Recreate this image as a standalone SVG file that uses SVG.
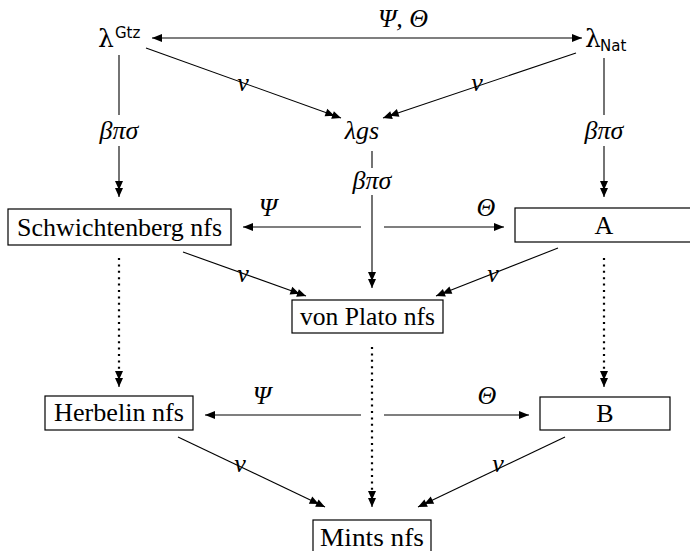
<svg xmlns="http://www.w3.org/2000/svg" width="690" height="551" viewBox="0 0 690 551">
<style>
.t{font-family:"Liberation Serif","DejaVu Serif",serif;font-size:26px;fill:#000}
.m{font-family:"Liberation Serif","DejaVu Serif",serif;font-style:italic;font-size:26px;fill:#000}
.l{font-family:"DejaVu Serif","Liberation Serif",serif;font-size:25px;fill:#000}
.s{font-family:"DejaVu Sans","Liberation Sans",sans-serif;font-size:15px;fill:#000}
.box{fill:#fff;stroke:#000;stroke-width:1.2}
.e{stroke:#000;stroke-width:1.1;fill:none}
.d{stroke:#000;stroke-width:2.2;fill:none;stroke-dasharray:2 4.4}
</style>
<defs>
<marker id="dbl" markerUnits="userSpaceOnUse" markerWidth="20" markerHeight="12" viewBox="-18 -6 20 12" refX="0" refY="0" orient="auto">
<path d="M0,0 L-9,-4 L-9,4 Z M-7,0 L-16,-4 L-16,4 Z" fill="#000"/>
</marker>
<marker id="sgl" markerUnits="userSpaceOnUse" markerWidth="12" markerHeight="12" viewBox="-11 -6 12 12" refX="0" refY="0" orient="auto-start-reverse">
<path d="M0,0 L-10,-4 L-10,4 Z" fill="#000"/>
</marker>
</defs>
<g id="connectors">
<line class="e" x1="152" y1="38" x2="582" y2="38" marker-start="url(#sgl)" marker-end="url(#sgl)"/>
<line class="e" x1="119" y1="55" x2="119" y2="115"/>
<line class="e" x1="119" y1="146" x2="119" y2="197" marker-end="url(#dbl)"/>
<line class="e" x1="604" y1="58" x2="604" y2="115"/>
<line class="e" x1="604" y1="146" x2="604" y2="197" marker-end="url(#dbl)"/>
<line class="e" x1="146" y1="48" x2="341" y2="118" marker-end="url(#dbl)"/>
<line class="e" x1="576" y1="53" x2="383" y2="118" marker-end="url(#dbl)"/>
<line class="e" x1="372" y1="151" x2="372" y2="168"/>
<line class="e" x1="372" y1="195" x2="372" y2="288" marker-end="url(#dbl)"/>
<line class="e" x1="361" y1="227" x2="243" y2="227" marker-end="url(#sgl)"/>
<line class="e" x1="384" y1="227" x2="504" y2="227" marker-end="url(#sgl)"/>
<line class="e" x1="183" y1="252" x2="306" y2="296" marker-end="url(#dbl)"/>
<line class="e" x1="558" y1="248" x2="436" y2="296" marker-end="url(#dbl)"/>
<line class="d" x1="119" y1="258" x2="119" y2="378"/>
<line class="e" x1="119" y1="376" x2="119" y2="387" marker-end="url(#dbl)"/>
<line class="d" x1="604" y1="258" x2="604" y2="378"/>
<line class="e" x1="604" y1="376" x2="604" y2="387" marker-end="url(#dbl)"/>
<line class="d" x1="372" y1="347" x2="372" y2="498"/>
<line class="e" x1="372" y1="496" x2="372" y2="507" marker-end="url(#dbl)"/>
<line class="e" x1="361" y1="415" x2="205" y2="415" marker-end="url(#sgl)"/>
<line class="e" x1="384" y1="415" x2="529" y2="415" marker-end="url(#sgl)"/>
<line class="e" x1="178" y1="437" x2="325" y2="507" marker-end="url(#dbl)"/>
<line class="e" x1="565" y1="437" x2="418" y2="507" marker-end="url(#dbl)"/>
<text class="m" x="403" y="27" text-anchor="middle">Ψ, Θ</text>
<text class="m" x="119" y="139" text-anchor="middle">βπσ</text>
<text class="m" x="604" y="139" text-anchor="middle">βπσ</text>
<text class="m" x="372" y="189" text-anchor="middle">βπσ</text>
<text class="m" x="243" y="91" text-anchor="middle">ν</text>
<text class="m" x="477" y="91" text-anchor="middle">ν</text>
<text class="m" x="268" y="216" text-anchor="middle">Ψ</text>
<text class="m" x="486" y="216" text-anchor="middle">Θ</text>
<text class="m" x="243" y="282" text-anchor="middle">ν</text>
<text class="m" x="493" y="282" text-anchor="middle">ν</text>
<text class="m" x="262" y="404" text-anchor="middle">Ψ</text>
<text class="m" x="487" y="404" text-anchor="middle">Θ</text>
<text class="m" x="240" y="472" text-anchor="middle">ν</text>
<text class="m" x="498" y="472" text-anchor="middle">ν</text>
</g>
<g id="lambdaGtz">
<text class="l" x="98" y="47">λ</text>
<text class="s" x="115" y="38">Gtz</text>
</g>
<g id="lambdaNat">
<text class="l" x="585" y="47">λ</text>
<text class="s" x="600" y="51">Nat</text>
</g>
<g id="lambdags">
<text class="m" x="362" y="139" text-anchor="middle">λgs</text>
</g>
<g id="schwichtenberg">
<rect class="box" x="8" y="209" width="223" height="36"/>
<text class="t" x="119.5" y="236" text-anchor="middle" textLength="205" lengthAdjust="spacingAndGlyphs">Schwichtenberg nfs</text>
</g>
<g id="A">
<rect class="box" x="515" y="208" width="180" height="34"/>
<text class="t" x="604" y="234" text-anchor="middle">A</text>
</g>
<g id="vonPlato">
<rect class="box" x="292" y="300" width="151" height="33"/>
<text class="t" x="367.5" y="325" text-anchor="middle" textLength="135" lengthAdjust="spacingAndGlyphs">von Plato nfs</text>
</g>
<g id="herbelin">
<rect class="box" x="45" y="396" width="148" height="34"/>
<text class="t" x="119" y="421" text-anchor="middle" textLength="130" lengthAdjust="spacingAndGlyphs">Herbelin nfs</text>
</g>
<g id="B">
<rect class="box" x="540" y="397" width="130" height="33"/>
<text class="t" x="605" y="422" text-anchor="middle">B</text>
</g>
<g id="mints">
<rect class="box" x="313" y="520" width="118" height="40"/>
<text class="t" x="372" y="546" text-anchor="middle" textLength="104" lengthAdjust="spacingAndGlyphs">Mints nfs</text>
</g>
</svg>
